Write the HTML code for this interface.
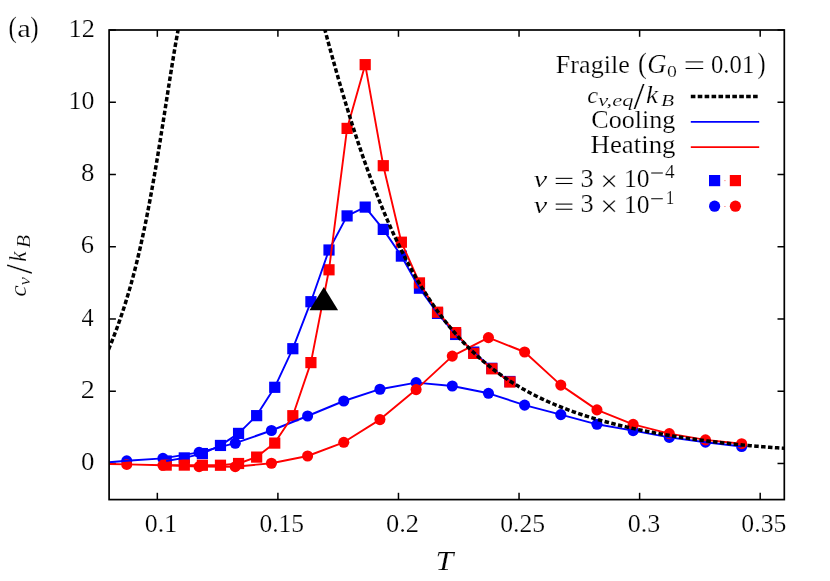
<!DOCTYPE html>
<html><head><meta charset="utf-8"><title>cv/kB vs T</title>
<style>html,body{margin:0;padding:0;background:#fff;}svg{display:block;}text{font-family:"Liberation Serif",serif;fill:#000;}</style>
</head><body>
<svg width="830" height="581" viewBox="0 0 830 581">
<rect x="0" y="0" width="830" height="581" fill="#fff"/>
<g stroke="#000" stroke-width="1.5" fill="none">
<line x1="157.33" y1="499.60" x2="157.33" y2="492.80"/>
<line x1="157.33" y1="30.00" x2="157.33" y2="36.80"/>
<line x1="277.90" y1="499.60" x2="277.90" y2="492.80"/>
<line x1="277.90" y1="30.00" x2="277.90" y2="36.80"/>
<line x1="398.47" y1="499.60" x2="398.47" y2="492.80"/>
<line x1="398.47" y1="30.00" x2="398.47" y2="36.80"/>
<line x1="519.04" y1="499.60" x2="519.04" y2="492.80"/>
<line x1="519.04" y1="30.00" x2="519.04" y2="36.80"/>
<line x1="639.61" y1="499.60" x2="639.61" y2="492.80"/>
<line x1="639.61" y1="30.00" x2="639.61" y2="36.80"/>
<line x1="760.19" y1="499.60" x2="760.19" y2="492.80"/>
<line x1="760.19" y1="30.00" x2="760.19" y2="36.80"/>
<line x1="109.10" y1="463.48" x2="115.90" y2="463.48"/>
<line x1="784.30" y1="463.48" x2="777.50" y2="463.48"/>
<line x1="109.10" y1="391.23" x2="115.90" y2="391.23"/>
<line x1="784.30" y1="391.23" x2="777.50" y2="391.23"/>
<line x1="109.10" y1="318.98" x2="115.90" y2="318.98"/>
<line x1="784.30" y1="318.98" x2="777.50" y2="318.98"/>
<line x1="109.10" y1="246.74" x2="115.90" y2="246.74"/>
<line x1="784.30" y1="246.74" x2="777.50" y2="246.74"/>
<line x1="109.10" y1="174.49" x2="115.90" y2="174.49"/>
<line x1="784.30" y1="174.49" x2="777.50" y2="174.49"/>
<line x1="109.10" y1="102.25" x2="115.90" y2="102.25"/>
<line x1="784.30" y1="102.25" x2="777.50" y2="102.25"/>
<line x1="109.10" y1="30.00" x2="115.90" y2="30.00"/>
<line x1="784.30" y1="30.00" x2="777.50" y2="30.00"/>
</g>
<defs><clipPath id="cp"><rect x="109.10" y="30.00" width="675.20" height="469.60"/></clipPath></defs>
<g fill="#0000ff">
<circle cx="126.75" cy="460.80" r="5.55"/>
<circle cx="162.92" cy="458.40" r="5.55"/>
<circle cx="199.09" cy="452.40" r="5.55"/>
<circle cx="235.26" cy="443.25" r="5.55"/>
<circle cx="271.43" cy="430.50" r="5.55"/>
<circle cx="307.60" cy="416.00" r="5.55"/>
<circle cx="343.77" cy="401.00" r="5.55"/>
<circle cx="379.94" cy="389.25" r="5.55"/>
<circle cx="416.11" cy="382.60" r="5.55"/>
<circle cx="452.28" cy="386.00" r="5.55"/>
<circle cx="488.45" cy="393.30" r="5.55"/>
<circle cx="524.62" cy="405.10" r="5.55"/>
<circle cx="560.79" cy="414.60" r="5.55"/>
<circle cx="596.96" cy="424.30" r="5.55"/>
<circle cx="633.13" cy="430.60" r="5.55"/>
<circle cx="669.30" cy="437.40" r="5.55"/>
<circle cx="705.47" cy="442.20" r="5.55"/>
<circle cx="741.64" cy="446.50" r="5.55"/>
<rect x="160.60" y="455.40" width="11.2" height="11.2"/>
<rect x="178.69" y="452.30" width="11.2" height="11.2"/>
<rect x="196.78" y="447.95" width="11.2" height="11.2"/>
<rect x="214.87" y="439.85" width="11.2" height="11.2"/>
<rect x="232.96" y="427.80" width="11.2" height="11.2"/>
<rect x="251.05" y="410.05" width="11.2" height="11.2"/>
<rect x="269.14" y="381.70" width="11.2" height="11.2"/>
<rect x="287.23" y="343.10" width="11.2" height="11.2"/>
<rect x="305.32" y="296.10" width="11.2" height="11.2"/>
<rect x="323.41" y="244.40" width="11.2" height="11.2"/>
<rect x="341.50" y="210.30" width="11.2" height="11.2"/>
<rect x="359.59" y="201.50" width="11.2" height="11.2"/>
<rect x="377.68" y="223.80" width="11.2" height="11.2"/>
<rect x="395.77" y="250.50" width="11.2" height="11.2"/>
<rect x="413.86" y="282.60" width="11.2" height="11.2"/>
<rect x="431.95" y="307.80" width="11.2" height="11.2"/>
<rect x="450.04" y="328.85" width="11.2" height="11.2"/>
<rect x="468.13" y="346.50" width="11.2" height="11.2"/>
<rect x="486.22" y="362.70" width="11.2" height="11.2"/>
<rect x="504.31" y="375.90" width="11.2" height="11.2"/>
</g>
<g fill="#ff0000">
<circle cx="126.75" cy="464.45" r="5.55"/>
<circle cx="162.92" cy="465.30" r="5.55"/>
<circle cx="199.09" cy="466.60" r="5.55"/>
<circle cx="235.26" cy="466.70" r="5.55"/>
<circle cx="271.43" cy="463.25" r="5.55"/>
<circle cx="307.60" cy="456.00" r="5.55"/>
<circle cx="343.77" cy="442.30" r="5.55"/>
<circle cx="379.94" cy="419.60" r="5.55"/>
<circle cx="416.11" cy="389.60" r="5.55"/>
<circle cx="452.28" cy="356.10" r="5.55"/>
<circle cx="488.45" cy="337.60" r="5.55"/>
<circle cx="524.62" cy="352.00" r="5.55"/>
<circle cx="560.79" cy="385.10" r="5.55"/>
<circle cx="596.96" cy="409.90" r="5.55"/>
<circle cx="633.13" cy="424.40" r="5.55"/>
<circle cx="669.30" cy="433.60" r="5.55"/>
<circle cx="705.47" cy="439.90" r="5.55"/>
<circle cx="741.64" cy="443.70" r="5.55"/>
<rect x="160.60" y="459.50" width="11.2" height="11.2"/>
<rect x="178.69" y="459.50" width="11.2" height="11.2"/>
<rect x="196.78" y="459.65" width="11.2" height="11.2"/>
<rect x="214.87" y="459.65" width="11.2" height="11.2"/>
<rect x="232.96" y="457.90" width="11.2" height="11.2"/>
<rect x="251.05" y="451.50" width="11.2" height="11.2"/>
<rect x="269.14" y="437.50" width="11.2" height="11.2"/>
<rect x="287.23" y="410.10" width="11.2" height="11.2"/>
<rect x="305.32" y="357.00" width="11.2" height="11.2"/>
<rect x="323.41" y="264.20" width="11.2" height="11.2"/>
<rect x="341.50" y="122.80" width="11.2" height="11.2"/>
<rect x="359.59" y="59.05" width="11.2" height="11.2"/>
<rect x="377.68" y="160.10" width="11.2" height="11.2"/>
<rect x="395.77" y="236.60" width="11.2" height="11.2"/>
<rect x="413.86" y="277.30" width="11.2" height="11.2"/>
<rect x="431.95" y="306.60" width="11.2" height="11.2"/>
<rect x="450.04" y="327.00" width="11.2" height="11.2"/>
<rect x="468.13" y="347.80" width="11.2" height="11.2"/>
<rect x="486.22" y="363.20" width="11.2" height="11.2"/>
<rect x="504.31" y="376.40" width="11.2" height="11.2"/>
</g>
<g clip-path="url(#cp)" fill="none" stroke-width="1.9" stroke-linejoin="round">
<polyline stroke="#0000ff" points="109.1,462.3 126.8,460.8 162.9,458.4 199.1,452.4 235.3,443.2 271.4,430.5 307.6,416.0 343.8,401.0 379.9,389.2 416.1,382.6 452.3,386.0 488.5,393.3 524.6,405.1 560.8,414.6 597.0,424.3 633.1,430.6 669.3,437.4 705.5,442.2 741.6,446.5"/>
<polyline stroke="#0000ff" points="166.2,461.0 184.3,457.9 202.4,453.6 220.5,445.4 238.6,433.4 256.6,415.6 274.7,387.3 292.8,348.7 310.9,301.7 329.0,250.0 347.1,215.9 365.2,207.1 383.3,229.4 401.4,256.1 419.5,288.2 437.6,313.4 455.6,334.4 473.7,352.1 491.8,368.3 509.9,381.5"/>
<polyline stroke="#ff0000" points="109.1,464.0 126.8,464.4 162.9,465.3 199.1,466.6 235.3,466.7 271.4,463.2 307.6,456.0 343.8,442.3 379.9,419.6 416.1,389.6 452.3,356.1 488.5,337.6 524.6,352.0 560.8,385.1 597.0,409.9 633.1,424.4 669.3,433.6 705.5,439.9 741.6,443.7"/>
<polyline stroke="#ff0000" points="166.2,465.1 184.3,465.1 202.4,465.2 220.5,465.2 238.6,463.5 256.6,457.1 274.7,443.1 292.8,415.7 310.9,362.6 329.0,269.8 347.1,128.4 365.2,64.7 383.3,165.7 401.4,242.2 419.5,282.9 437.6,312.2 455.6,332.6 473.7,353.4 491.8,368.8 509.9,382.0"/>
</g>
<g clip-path="url(#cp)" fill="none" stroke="#000" stroke-width="3.5" stroke-dasharray="4.5 2.4">
<polyline points="181.00,15.44 180.08,19.84 179.15,24.45 178.23,29.25 177.31,34.24 176.39,39.38 175.46,44.67 174.54,50.09 173.62,55.61 172.69,61.24 171.77,66.94 170.85,72.71 169.93,78.54 169.00,84.40 168.08,90.30 167.16,96.22 166.24,102.14 165.31,108.06 164.39,113.97 163.47,119.87 162.54,125.73 161.62,131.56 160.70,137.35 159.78,143.09 158.85,148.78 157.93,154.41 157.01,159.98 156.08,165.48 155.16,170.91 154.24,176.27 153.32,181.55 152.39,186.76 151.47,191.88 150.55,196.93 149.63,201.88 148.70,206.76 147.78,211.55 146.86,216.25 145.93,220.87 145.01,225.40 144.09,229.85 143.17,234.21 142.24,238.49 141.32,242.68 140.40,246.79 139.47,250.82 138.55,254.77 137.63,258.63 136.71,262.42 135.78,266.14 134.86,269.77 133.94,273.34 133.02,276.83 132.09,280.25 131.17,283.61 130.25,286.89 129.32,290.12 128.40,293.27 127.48,296.37 126.56,299.41 125.63,302.39 124.71,305.32 123.79,308.19 122.86,311.01 121.94,313.79 121.02,316.51 120.10,319.19 119.17,321.82 118.25,324.41 117.33,326.97 116.41,329.48 115.48,331.96 114.56,334.40 113.64,336.81 112.71,339.18 111.79,341.53 110.87,343.85 109.95,346.14 109.02,348.40 108.10,350.64"/>
<polyline points="321.00,15.12 322.94,22.50 324.89,29.82 326.83,37.06 328.77,44.23 330.71,51.33 332.66,58.35 334.60,65.29 336.54,72.15 338.48,78.93 340.43,85.62 342.37,92.23 344.31,98.75 346.25,105.18 348.20,111.52 350.14,117.77 352.08,123.94 354.03,130.01 355.97,135.99 357.91,141.87 359.85,147.67 361.80,153.38 363.74,158.99 365.68,164.51 367.62,169.94 369.57,175.28 371.51,180.53 373.45,185.69 375.39,190.75 377.34,195.73 379.28,200.63 381.22,205.43 383.17,210.15 385.11,214.78 387.05,219.33 388.99,223.79 390.94,228.17 392.88,232.47 394.82,236.68 396.76,240.82 398.71,244.88 400.65,248.86 402.59,252.76 404.54,256.59 406.48,260.34 408.42,264.02 410.36,267.62 412.31,271.16 414.25,274.62 416.19,278.02 418.13,281.35 420.08,284.61 422.02,287.80 423.96,290.94 425.90,294.00 427.85,297.01 429.79,299.96 431.73,302.84 433.68,305.67 435.62,308.44 437.56,311.15 439.50,313.81 441.45,316.41 443.39,318.96 445.33,321.46 447.27,323.91 449.22,326.31 451.16,328.65 453.10,330.95 455.04,333.21 456.99,335.41 458.93,337.57 460.87,339.69 462.82,341.77 464.76,343.80 466.70,345.79 468.64,347.74 470.59,349.65 472.53,351.52 474.47,353.35 476.41,355.15 478.36,356.91 480.30,358.63 482.24,360.32 484.18,361.98 486.13,363.60 488.07,365.19 490.01,366.75 491.96,368.27 493.90,369.77 495.84,371.24 497.78,372.68 499.73,374.08 501.67,375.47 503.61,376.82 505.55,378.15 507.50,379.45 509.44,380.73 511.38,381.98 513.33,383.21 515.27,384.41 517.21,385.59 519.15,386.75 521.10,387.89 523.04,389.00 524.98,390.09 526.92,391.17 528.87,392.22 530.81,393.25 532.75,394.27 534.69,395.26 536.64,396.24 538.58,397.20 540.52,398.14 542.47,399.06 544.41,399.97 546.35,400.86 548.29,401.73 550.24,402.59 552.18,403.44 554.12,404.26 556.06,405.08 558.01,405.88 559.95,406.66 561.89,407.44 563.83,408.19 565.78,408.94 567.72,409.67 569.66,410.39 571.61,411.10 573.55,411.80 575.49,412.48 577.43,413.15 579.38,413.81 581.32,414.47 583.26,415.10 585.20,415.73 587.15,416.35 589.09,416.96 591.03,417.56 592.97,418.15 594.92,418.73 596.86,419.30 598.80,419.86 600.75,420.42 602.69,420.96 604.63,421.50 606.57,422.02 608.52,422.54 610.46,423.05 612.40,423.56 614.34,424.05 616.29,424.54 618.23,425.02 620.17,425.50 622.12,425.96 624.06,426.42 626.00,426.88 627.94,427.32 629.89,427.76 631.83,428.19 633.77,428.62 635.71,429.04 637.66,429.46 639.60,429.86 641.54,430.27 643.48,430.66 645.43,431.05 647.37,431.44 649.31,431.82 651.26,432.19 653.20,432.56 655.14,432.93 657.08,433.29 659.03,433.64 660.97,433.99 662.91,434.33 664.85,434.67 666.80,435.01 668.74,435.34 670.68,435.66 672.62,435.98 674.57,436.30 676.51,436.61 678.45,436.92 680.40,437.22 682.34,437.52 684.28,437.82 686.22,438.11 688.17,438.39 690.11,438.68 692.05,438.96 693.99,439.23 695.94,439.50 697.88,439.77 699.82,440.03 701.76,440.29 703.71,440.55 705.65,440.80 707.59,441.05 709.54,441.29 711.48,441.53 713.42,441.77 715.36,442.01 717.31,442.24 719.25,442.47 721.19,442.69 723.13,442.91 725.08,443.13 727.02,443.34 728.96,443.55 730.91,443.76 732.85,443.97 734.79,444.17 736.73,444.37 738.68,444.56 740.62,444.75 742.56,444.94 744.50,445.13 746.45,445.31 748.39,445.49 750.33,445.67 752.27,445.84 754.22,446.01 756.16,446.18 758.10,446.35 760.05,446.51 761.99,446.67 763.93,446.82 765.87,446.98 767.82,447.13 769.76,447.28 771.70,447.42 773.64,447.56 775.59,447.70 777.53,447.84 779.47,447.97 781.41,448.10 783.36,448.23 785.30,448.35"/>
</g>
<polygon fill="#000" points="323.84,287.0 309.5,310.15 338.1,310.15"/>
<rect x="109.10" y="30.00" width="675.20" height="469.60" fill="none" stroke="#000" stroke-width="1.7"/>
<line x1="690.8" y1="96.5" x2="758" y2="96.5" stroke="#000" stroke-width="3.4" stroke-dasharray="4.6 2.32"/>
<line x1="690.8" y1="121.95" x2="759.2" y2="121.95" stroke="#0000ff" stroke-width="1.8"/>
<line x1="690.8" y1="147.15" x2="759.2" y2="147.15" stroke="#ff0000" stroke-width="1.8"/>
<rect x="709.00" y="175.00" width="11.2" height="11.2" fill="#0000ff"/>
<rect x="729.80" y="175.00" width="11.2" height="11.2" fill="#ff0000"/>
<circle cx="714.6" cy="206.2" r="5.6" fill="#0000ff"/>
<circle cx="735.4" cy="206.2" r="5.6" fill="#ff0000"/>
<rect x="724.0" y="180.2" width="1.8" height="0.9" fill="#ffa0a0"/>
<rect x="724.0" y="206.0" width="1.8" height="0.9" fill="#ffa0a0"/>
<g font-size="100" stroke="#fff" stroke-width="0.2" opacity="0.999">
<text vector-effect="non-scaling-stroke" transform="matrix(0.25098,0,0,0.29111,8.47,36.99)">(</text>
<text vector-effect="non-scaling-stroke" transform="matrix(0.30506,0,0,0.25474,17.18,36.65)">a</text>
<text vector-effect="non-scaling-stroke" transform="matrix(0.25000,0,0,0.29111,30.25,36.99)">)</text>
<text vector-effect="non-scaling-stroke" transform="matrix(0.26905,0,0,0.24889,80.92,469.98)">0</text>
<text vector-effect="non-scaling-stroke" transform="matrix(0.28250,0,0,0.25455,80.73,397.98)">2</text>
<text vector-effect="non-scaling-stroke" transform="matrix(0.24301,0,0,0.25846,81.51,325.86)">4</text>
<text vector-effect="non-scaling-stroke" transform="matrix(0.26588,0,0,0.25075,80.80,253.24)">6</text>
<text vector-effect="non-scaling-stroke" transform="matrix(0.26905,0,0,0.24889,80.92,180.99)">8</text>
<text vector-effect="non-scaling-stroke" transform="matrix(0.25862,0,0,0.24889,68.57,108.75)">10</text>
<text vector-effect="non-scaling-stroke" transform="matrix(0.26316,0,0,0.25455,68.53,36.75)">12</text>
<text vector-effect="non-scaling-stroke" transform="matrix(0.25826,0,0,0.24853,144.77,531.73)">0.1</text>
<text vector-effect="non-scaling-stroke" transform="matrix(0.25569,0,0,0.24853,259.38,531.73)">0.15</text>
<text vector-effect="non-scaling-stroke" transform="matrix(0.26407,0,0,0.24853,386.04,531.73)">0.2</text>
<text vector-effect="non-scaling-stroke" transform="matrix(0.25689,0,0,0.24853,500.27,531.73)">0.25</text>
<text vector-effect="non-scaling-stroke" transform="matrix(0.25983,0,0,0.24853,627.76,531.73)">0.3</text>
<text vector-effect="non-scaling-stroke" transform="matrix(0.25749,0,0,0.24853,741.37,531.73)">0.35</text>
<text vector-effect="non-scaling-stroke" transform="matrix(0.32000,0,0,0.26308,435.62,569.70)" font-style="italic">T</text>
<text vector-effect="non-scaling-stroke" transform="matrix(0.26137,0,0,0.25167,555.82,72.67)">Fragile</text>
<text vector-effect="non-scaling-stroke" transform="matrix(0.26667,0,0,0.28444,638.00,73.03)">(</text>
<text vector-effect="non-scaling-stroke" transform="matrix(0.26667,0,0,0.26716,647.13,72.83)" font-style="italic">G</text>
<text vector-effect="non-scaling-stroke" transform="matrix(0.19762,0,0,0.16889,667.11,76.63)">0</text>
<text vector-effect="non-scaling-stroke" transform="matrix(0.24727,0,0,0.25809,711.01,72.81)">0.01</text>
<text vector-effect="non-scaling-stroke" transform="matrix(0.24231,0,0,0.28444,757.47,73.03)">)</text>
<text vector-effect="non-scaling-stroke" transform="matrix(0.24444,0,0,0.22500,587.27,102.98)" font-style="italic">c</text>
<text vector-effect="non-scaling-stroke" transform="matrix(0.22557,0,0,0.16176,598.26,106.20)" font-style="italic">v,eq</text>
<text vector-effect="non-scaling-stroke" transform="matrix(0.40000,0,0,0.37293,633.40,108.53)">/</text>
<text vector-effect="non-scaling-stroke" transform="matrix(0.27209,0,0,0.24493,645.98,103.10)" font-style="italic">k</text>
<text vector-effect="non-scaling-stroke" transform="matrix(0.21379,0,0,0.16947,660.99,106.20)" font-style="italic">B</text>
<text vector-effect="non-scaling-stroke" transform="matrix(0.26098,0,0,0.25556,591.36,127.63)">Cooling</text>
<text vector-effect="non-scaling-stroke" transform="matrix(0.26870,0,0,0.24713,590.49,153.31)">Heating</text>
<text vector-effect="non-scaling-stroke" transform="matrix(0.30233,0,0,0.23011,533.85,186.77)" font-style="italic">ν</text>
<text vector-effect="non-scaling-stroke" transform="matrix(0.26341,0,0,0.24925,580.58,186.65)">3</text>
<text vector-effect="non-scaling-stroke" transform="matrix(0.31358,0,0,0.30247,600.29,190.68)">×</text>
<text vector-effect="non-scaling-stroke" transform="matrix(0.25632,0,0,0.24889,623.99,186.75)">10</text>
<text vector-effect="non-scaling-stroke" transform="matrix(0.19355,0,0,0.18154,665.11,178.19)">4</text>
<text vector-effect="non-scaling-stroke" transform="matrix(0.30233,0,0,0.23011,533.85,212.52)" font-style="italic">ν</text>
<text vector-effect="non-scaling-stroke" transform="matrix(0.26341,0,0,0.24925,580.58,212.40)">3</text>
<text vector-effect="non-scaling-stroke" transform="matrix(0.31358,0,0,0.30247,600.29,216.43)">×</text>
<text vector-effect="non-scaling-stroke" transform="matrix(0.25632,0,0,0.24889,623.99,212.50)">10</text>
<text vector-effect="non-scaling-stroke" transform="matrix(0.17143,0,0,0.18015,665.76,203.85)">1</text>
<g transform="translate(0,296) rotate(-90)">
<text vector-effect="non-scaling-stroke" transform="matrix(0.25679,0,0,0.23333,-0.67,26.07)" font-style="italic">c</text>
<text vector-effect="non-scaling-stroke" transform="matrix(0.18372,0,0,0.16774,10.82,29.63)" font-style="italic">v</text>
<text vector-effect="non-scaling-stroke" transform="matrix(0.35273,0,0,0.37218,22.10,32.38)">/</text>
<text vector-effect="non-scaling-stroke" transform="matrix(0.23023,0,0,0.24203,34.31,26.30)" font-style="italic">k</text>
<text vector-effect="non-scaling-stroke" transform="matrix(0.21379,0,0,0.17863,48.09,29.60)" font-style="italic">B</text>
</g>
</g>
<rect x="685.60" y="61.38" width="17.60" height="1.05" fill="#000"/>
<rect x="685.60" y="67.97" width="17.60" height="1.05" fill="#000"/>
<rect x="555.70" y="177.82" width="16.70" height="1.05" fill="#000"/>
<rect x="555.70" y="182.97" width="16.70" height="1.05" fill="#000"/>
<rect x="651.20" y="172.50" width="11.60" height="1.00" fill="#000"/>
<rect x="555.70" y="203.57" width="16.70" height="1.05" fill="#000"/>
<rect x="555.70" y="208.72" width="16.70" height="1.05" fill="#000"/>
<rect x="651.20" y="198.25" width="11.60" height="1.00" fill="#000"/>
</svg>
</body></html>
